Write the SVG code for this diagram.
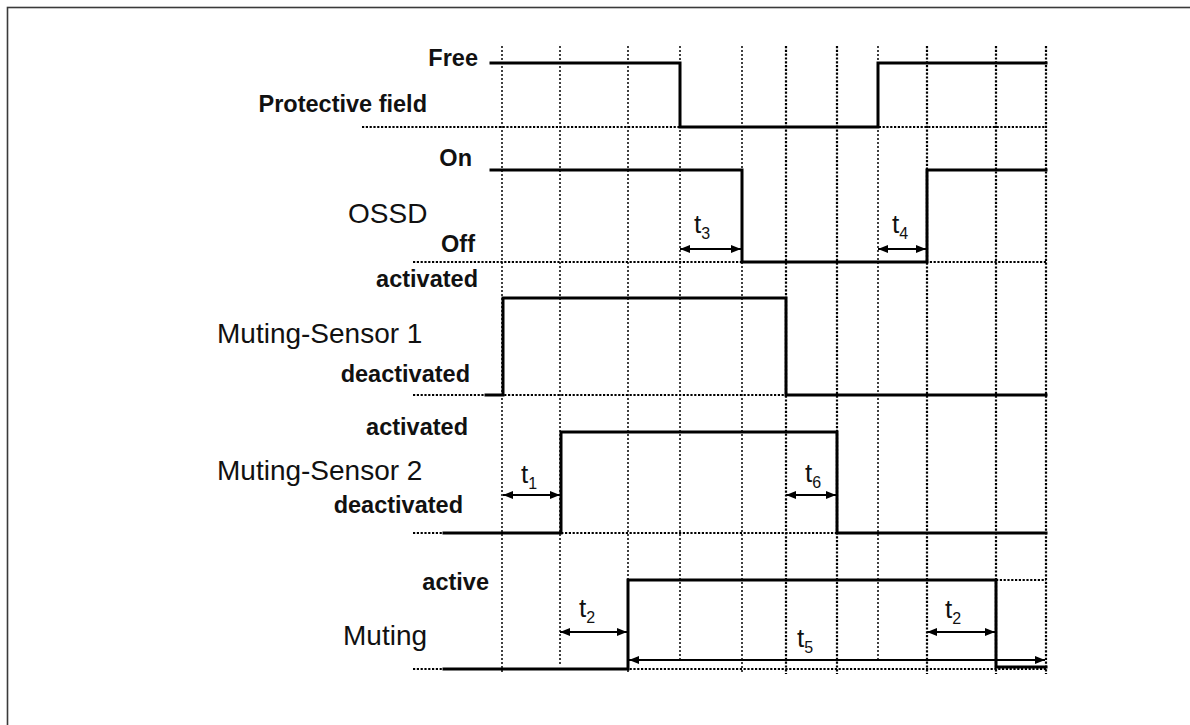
<svg xmlns="http://www.w3.org/2000/svg" width="1190" height="725" viewBox="0 0 1190 725">
  <style>
    .frame { fill: none; stroke: #3a3a3a; stroke-width: 1.6; }
    .grid { fill: none; stroke: #111; stroke-width: 1.6; stroke-dasharray: 2 2; }
    .gridd { fill: none; stroke: #000; stroke-width: 2.2; stroke-dasharray: 2.2 1.6; }
    .base { fill: none; stroke: #000; stroke-width: 2.2; stroke-dasharray: 2.2 1.6; }
    .wave { fill: none; stroke: #000; stroke-width: 3; stroke-linejoin: miter; stroke-linecap: square; }
    .dim { fill: none; stroke: #000; stroke-width: 2.2; marker-start: url(#ah); marker-end: url(#ah); }
    .lb { font-family: "Liberation Sans", Arial, sans-serif; font-weight: bold; font-size: 23.5px; fill: #111; text-anchor: end; }
    .lr { font-family: "Liberation Sans", Arial, sans-serif; font-size: 28px; fill: #111; }
    .tl { font-family: "Liberation Sans", Arial, sans-serif; font-size: 26px; fill: #111; }
    .sub { font-size: 16px; }
  </style>
  <defs>
    <marker id="ah" viewBox="0 0 10 8" refX="10" refY="4" markerWidth="11" markerHeight="8" markerUnits="userSpaceOnUse" orient="auto-start-reverse">
      <path d="M0,0 L10,4 L0,8 Z" fill="#000"/>
    </marker>
  </defs>

  <rect class="frame" x="7.5" y="7.5" width="1200" height="730"/>

  <g id="grid">
    <line class="grid" x1="502" y1="46" x2="502" y2="674"/>
    <line class="grid" x1="560" y1="46" x2="560" y2="666"/>
    <line class="grid" x1="628" y1="46" x2="628" y2="672"/>
    <line class="grid" x1="680" y1="46" x2="680" y2="660"/>
    <line class="grid" x1="742" y1="46" x2="742" y2="674"/>
    <line class="gridd" x1="786" y1="46" x2="786" y2="674"/>
    <line class="gridd" x1="837" y1="46" x2="837" y2="674"/>
    <line class="grid" x1="878" y1="46" x2="878" y2="660"/>
    <line class="gridd" x1="927" y1="46" x2="927" y2="674"/>
    <line class="gridd" x1="996" y1="46" x2="996" y2="674"/>
    <line class="gridd" x1="1046" y1="46" x2="1046" y2="674"/>
    <line class="base" x1="362" y1="127" x2="1046" y2="127"/>
    <line class="base" x1="413" y1="262" x2="1046" y2="262"/>
    <line class="base" x1="413" y1="395" x2="1046" y2="395"/>
    <line class="base" x1="413" y1="533" x2="1046" y2="533"/>
    <line class="base" x1="413" y1="669" x2="1046" y2="669"/>
    <line class="base" x1="996" y1="580" x2="1046" y2="580"/>
  </g>

  <g id="protective-field">
    <path class="wave" d="M491,63 H680 V127 H878 V63 H1046"/>
    <text class="lb" x="478" y="66">Free</text>
    <text class="lb" x="427" y="112">Protective field</text>
  </g>

  <g id="ossd">
    <path class="wave" d="M491,170 H742 V262 H927 V170 H1046"/>
    <text class="lb" x="472" y="166">On</text>
    <text class="lr" x="348" y="223">OSSD</text>
    <text class="lb" x="475" y="252">Off</text>
  </g>

  <g id="muting-sensor-1">
    <path class="wave" d="M486,395 H503 V298 H786 V395 H1046"/>
    <text class="lb" x="478" y="287">activated</text>
    <text class="lr" x="217" y="343">Muting-Sensor 1</text>
    <text class="lb" x="470" y="382">deactivated</text>
  </g>

  <g id="muting-sensor-2">
    <path class="wave" d="M444,533 H561 V432 H837 V533 H1046"/>
    <text class="lb" x="468" y="435">activated</text>
    <text class="lr" x="217" y="480">Muting-Sensor 2</text>
    <text class="lb" x="463" y="513">deactivated</text>
  </g>

  <g id="muting">
    <path class="wave" d="M444,669 H628 V580 H996 V667 H1046"/>
    <text class="lb" x="489" y="590">active</text>
    <text class="lr" x="343" y="645">Muting</text>
  </g>

  <g id="connectors">
    <line class="dim" x1="503" y1="495" x2="560" y2="495"/>
    <line class="dim" x1="786" y1="495" x2="836" y2="495"/>
    <line class="dim" x1="680" y1="249" x2="741" y2="249"/>
    <line class="dim" x1="878" y1="249" x2="926" y2="249"/>
    <line class="dim" x1="560" y1="632" x2="627" y2="632"/>
    <line class="dim" x1="927" y1="632" x2="995" y2="632"/>
    <line class="dim" x1="629" y1="660" x2="1045" y2="660"/>
  </g>

  <g id="interval-labels">
    <text class="tl" x="521" y="483">t<tspan class="sub" dy="6">1</tspan></text>
    <text class="tl" x="805" y="482">t<tspan class="sub" dy="6">6</tspan></text>
    <text class="tl" x="694" y="233">t<tspan class="sub" dy="6">3</tspan></text>
    <text class="tl" x="892" y="233">t<tspan class="sub" dy="6">4</tspan></text>
    <text class="tl" x="579" y="617">t<tspan class="sub" dy="6">2</tspan></text>
    <text class="tl" x="945" y="618">t<tspan class="sub" dy="6">2</tspan></text>
    <text class="tl" x="797" y="647">t<tspan class="sub" dy="6">5</tspan></text>
  </g>
</svg>
